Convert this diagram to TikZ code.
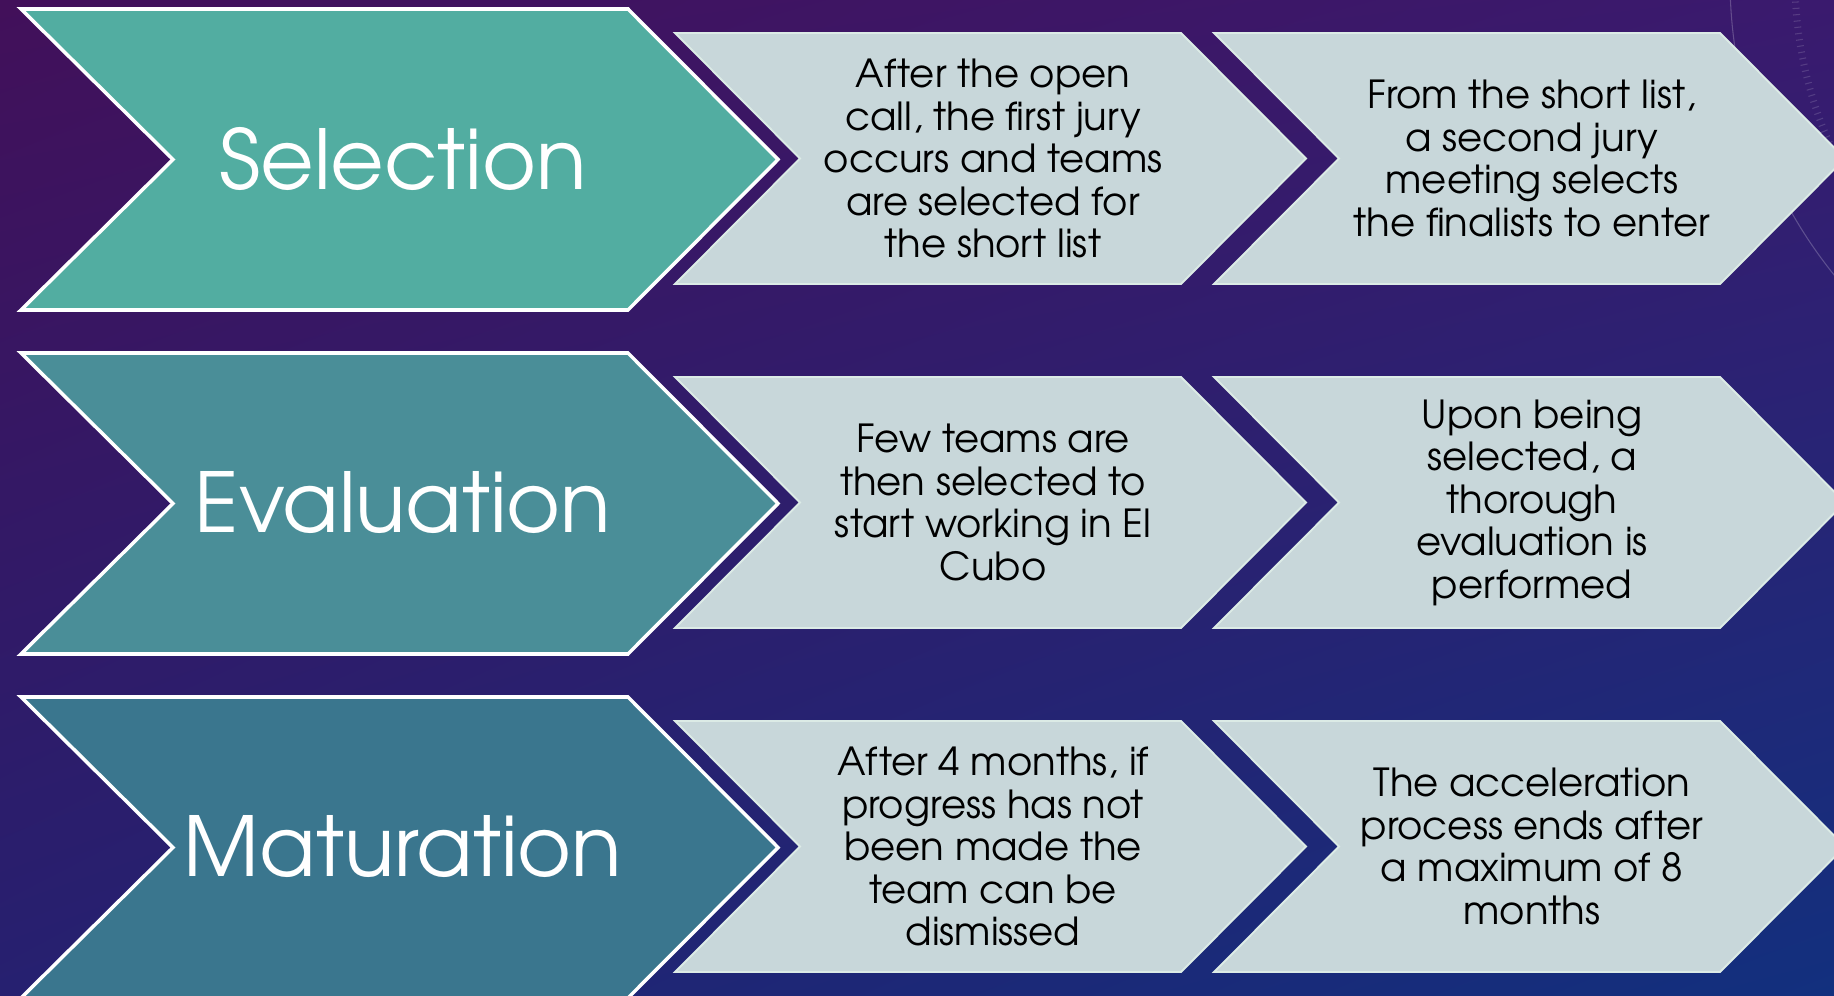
\documentclass[tikz,border=0pt]{standalone}
\usepackage{fontspec}
\setmainfont{TeX Gyre Adventor}
\usepackage{xcolor}
\usepackage{tikz}
\usetikzlibrary{shadings}

% Background and box colours
\definecolor{bgTL}{HTML}{42105A}
\definecolor{bgTR}{HTML}{3A1A6E}
\definecolor{bgBL}{HTML}{262070}
\definecolor{bgBR}{HTML}{12307E}
\definecolor{stageA}{HTML}{52ADA1}
\definecolor{stageB}{HTML}{4A8E98}
\definecolor{stageC}{HTML}{3A768E}
\definecolor{stepfill}{HTML}{C8D7DA}
\definecolor{stepedge}{HTML}{DCEBE6}

\tikzset{
    stage/.style={draw=white, line width=2pt, line join=miter},
    stagetext/.style={text=white, font=\fontsize{47}{56}\selectfont},
    stepbox/.style={fill=stepfill, draw=stepedge, line width=1.1pt},
    steptext/.style={align=center, text=black, font=\fontsize{22}{24.2}\selectfont}
}

\begin{document}
\begin{tikzpicture}[x=0.02cm, y=-0.02cm]
        % Page frame and background
        \useasboundingbox (0,0) rectangle (1834,996);
        \shade[upper left=bgTL, upper right=bgTR, lower left=bgBL, lower right=bgBR]
            (0,0) rectangle (1834,996);

        % Faint dial in the top right corner
        \draw[white, opacity=0.22, line width=0.6pt] (2200,-20) ++(185:470) arc (185:128:470);
        \draw[white, opacity=0.15, line width=4pt, dash pattern=on 0.6pt off 3pt]
            (2200,-20) ++(185:405) arc (185:120:405);

        % One row per stage: stage chevron, then two step chevrons
        \foreach[count=\r from 0] \col/\name/\first/\second in {
            stageA/Selection/{After the open\\call, the first jury\\occurs and teams\\are selected for\\the short list}/{From the short list,\\a second jury\\meeting selects\\the finalists to enter},
            stageB/Evaluation/{Few teams are\\then selected to\\start working in El\\Cubo}/{Upon being\\selected, a\\thorough\\evaluation is\\performed},
            stageC/Maturation/{After 4 months, if\\progress has not\\been made the\\team can be\\dismissed}/{The acceleration\\process ends after\\a maximum of 8\\months}}{
            \pgfmathsetmacro{\dy}{344*\r}
            \draw[stage, fill=\col] (21,9+\dy) -- ++(607,0) -- ++(150,150.5) -- ++(-150,150.5)
                -- ++(-607,0) -- ++(152,-150.5) -- cycle;
            \draw[stepbox] (675,33+\dy) -- ++(506,0) -- ++(125,125.5) -- ++(-125,125.5)
                -- ++(-506,0) -- ++(125,-125.5) -- cycle;
            \draw[stepbox] (1214,33+\dy) -- ++(506,0) -- ++(125,125.5) -- ++(-125,125.5)
                -- ++(-506,0) -- ++(125,-125.5) -- cycle;
            \node[stagetext] (stage\r) at (403,159+\dy) {\name};
            \node[steptext] (first\r) at (993,158.5+\dy) {\first};
            \node[steptext] (second\r) at (1532,158.5+\dy) {\second};
        }
    \end{tikzpicture}
\end{document}
